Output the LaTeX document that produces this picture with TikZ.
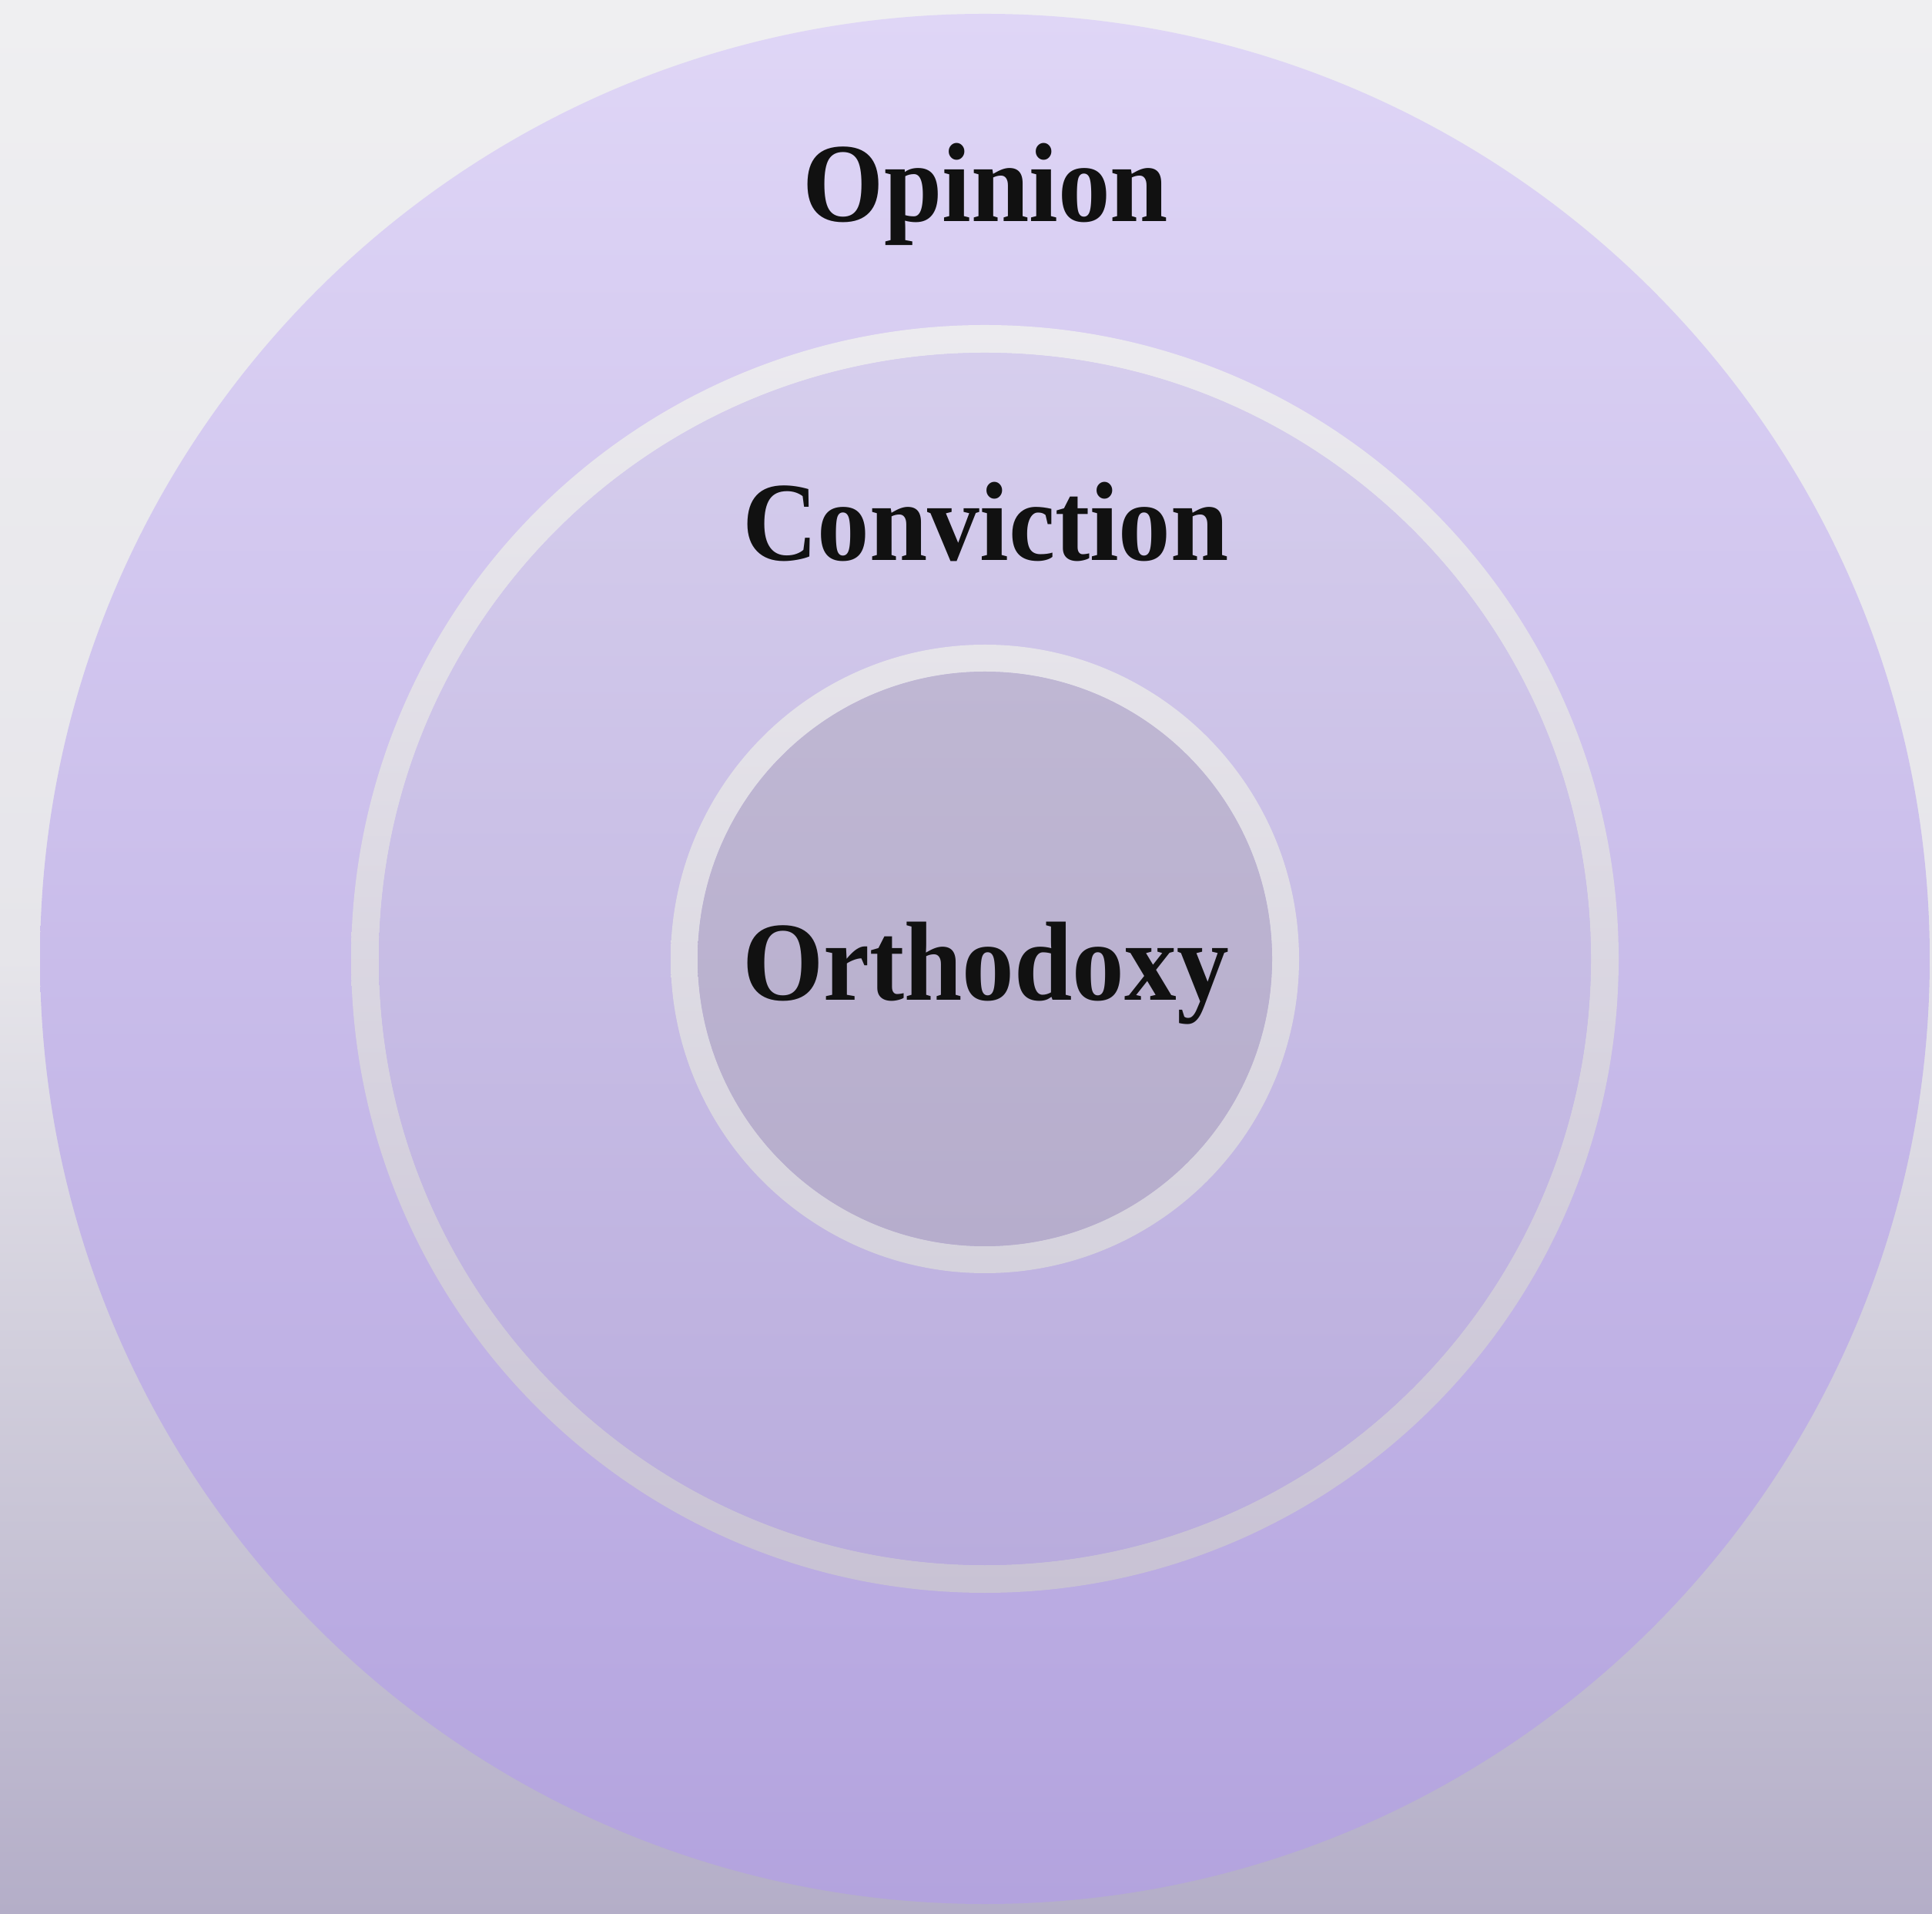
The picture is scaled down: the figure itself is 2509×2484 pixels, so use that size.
\documentclass[tikz,border=0pt]{standalone}
\usepackage{fontspec}
\usepackage{graphicx}
\setmainfont{Liberation Serif}
\definecolor{bgtop}{HTML}{EFEFF1}
\definecolor{bgmid}{HTML}{E6E5EA}
\definecolor{bgbot}{HTML}{B4AEC8}
\definecolor{outtop}{HTML}{DFD6F6}
\definecolor{outbot}{HTML}{B3A3DE}
\definecolor{ringAtop}{HTML}{ECEBEF}
\definecolor{ringAbot}{HTML}{C8C2D4}
\definecolor{midtop}{HTML}{D6CEED}
\definecolor{midbot}{HTML}{B9ACDD}
\definecolor{ringBtop}{HTML}{E6E4EA}
\definecolor{ringBbot}{HTML}{D5D2DD}
\definecolor{intop}{HTML}{BFB7D3}
\definecolor{inbot}{HTML}{B6ADCC}
\definecolor{ink}{HTML}{111111}
\tikzset{
  lbl/.style={anchor=base, text=ink, inner sep=0pt,
    font=\fontsize{38.5}{40}\selectfont\bfseries}
}
\newcommand{\tallword}[1]{\scalebox{1}[1.08]{#1}}
\begin{document}
\begin{tikzpicture}[x=0.01cm,y=0.01cm]
\useasboundingbox (0,0) rectangle (2509,2484);
\shade[top color=bgtop, bottom color=bgbot, middle color=bgmid] (0,0) rectangle (2509,2484);
\coordinate (c) at (1279,1239);
% outer disc
\shade[top color=outtop, bottom color=outbot] (c) circle (1227);
% outer white ring
\shade[even odd rule, top color=ringAtop, bottom color=ringAbot] (c) circle (823) (c) circle (787);
% middle disc
\shade[top color=midtop, bottom color=midbot] (c) circle (787);
% inner white ring
\shade[even odd rule, top color=ringBtop, bottom color=ringBbot] (c) circle (408) (c) circle (373);
% inner disc
\shade[top color=intop, bottom color=inbot] (c) circle (373);
% labels
\node[lbl] (opinion) at (1280,2196) {\tallword{Opinion}};
\node[lbl] (conviction) at (1280,1756) {\tallword{Conviction}};
\node[lbl] (orthodoxy) at (1280,1185) {\tallword{Orthodoxy}};
\end{tikzpicture}
\end{document}
